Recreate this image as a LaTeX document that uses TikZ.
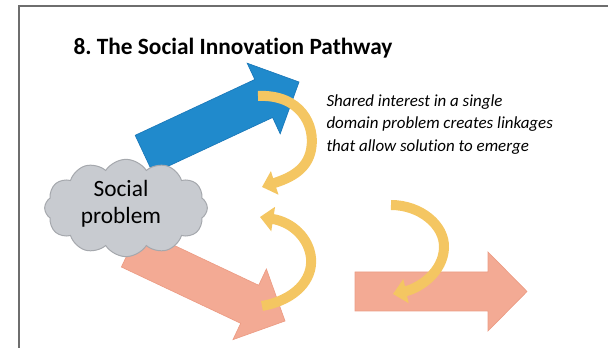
\documentclass[tikz,border=0pt]{standalone}
\usepackage{fontspec}
\setmainfont{Carlito}[Ligatures=NoCommon]
\usetikzlibrary{arrows.meta,shapes.symbols}

\definecolor{blueArrow}{RGB}{32,138,204}
\definecolor{blueEdge}{RGB}{26,120,185}
\definecolor{salmonArrow}{RGB}{243,170,148}
\definecolor{salmonEdge}{RGB}{236,156,132}
\definecolor{goldRibbon}{RGB}{244,198,98}
\definecolor{cloudFill}{RGB}{200,203,208}
\definecolor{cloudEdge}{RGB}{165,168,173}
\definecolor{frameGray}{RGB}{110,110,110}

\frenchspacing
\tikzset{every picture/.style={line width=0.75pt}}
\tikzset{
  blockarrow/.style={line width=0.5pt, line join=miter},
  ribbon/.style={draw=goldRibbon, line width=7.5pt,
    -{Triangle[width=18pt,length=10pt]}},
}

\begin{document}
\begin{tikzpicture}[x=0.75pt,y=0.75pt,yscale=-1,xscale=1]
\useasboundingbox (0,0) rectangle (608,348);

%Straight Lines [frame]
\draw [color=frameGray, line width=1.5] (19,348) -- (19,6) -- (608,6) ;

%Shape: Right Arrow [blue, upward]
\draw [blockarrow, draw=blueEdge, fill=blueArrow] (135.2,135.3) -- (254.8,79.5) -- (247.2,63.2) -- (299,82) -- (280.2,133.8) -- (272.6,117.5) -- (153,173.3) -- cycle ;
%Shape: Right Arrow [salmon, downward]
\draw [blockarrow, draw=salmonEdge, fill=salmonArrow] (139.4,229) -- (258.7,285.3) -- (266.4,269) -- (285,321) -- (233,339.6) -- (240.7,323.3) -- (121.4,267) -- cycle ;
%Shape: Right Arrow [salmon, right]
\draw [blockarrow, draw=salmonEdge, fill=salmonArrow] (355,272) -- (488,272) -- (488,252) -- (527,291.5) -- (488,331) -- (488,311) -- (355,311) -- cycle ;

%Shape: Cloud
\node [cloud, cloud puffs=12, cloud puff arc=115, aspect=1.7, draw=cloudEdge, fill=cloudFill, minimum width=122pt, minimum height=73pt, inner sep=0pt] (cloud) at (126,208) {};

%Curved Arrows
\draw [ribbon] (258,96) .. controls (300,94) and (316,125) .. (311,150) .. controls (307,170) and (290,178) .. (262,187) ;
\draw [ribbon] (262,306) .. controls (295,300) and (313,280) .. (311,258) .. controls (309,238) and (292,222) .. (260,217) ;
\draw [ribbon] (391,205) .. controls (420,205) and (445,225) .. (444,248) .. controls (443,272) and (420,288) .. (393,294) ;

% Text Node
\draw (73,55) node [anchor=base west][inner sep=0pt] (title) {\fontsize{17.5}{21}\bfseries 8. The Social Innovation Pathway};
% Text Node
\draw (121,179.5) node [anchor=north][inner sep=0pt, align=center, font=\fontsize{17.5}{20.25}\selectfont] (problem) {Social\\problem};
% Text Node
\draw (326,94) node [anchor=north west][inner sep=0pt, align=left, font=\fontsize{12.7}{16.9}\itshape] (note) {Shared interest in a single\\domain problem creates linkages\\that allow solution to emerge};
\end{tikzpicture}
\end{document}
